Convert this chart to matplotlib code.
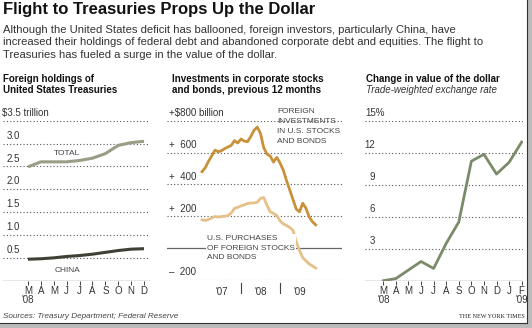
import matplotlib.pyplot as plt
from matplotlib.patches import Rectangle

plt.rcParams['font.family'] = ['Liberation Sans', 'DejaVu Sans']

# ---- data ----
months_08 = ['M', 'A', 'M', 'J', 'J', 'A', 'S', 'O', 'N', 'D']
total_hold = [2.49, 2.60, 2.60, 2.60, 2.63, 2.68, 2.78, 2.96, 3.02, 3.05]
china_hold = [0.47, 0.48, 0.50, 0.53, 0.55, 0.58, 0.62, 0.66, 0.69, 0.70]

# monthly, Jan 2007 onward ($ billion)
foreign_inv = [480, 505, 545, 580, 615, 605, 612, 625, 635, 645, 675, 660,
               685, 672, 668, 700, 740, 760, 720, 630, 590, 578, 540, 570,
               535, 490, 425, 365, 305, 245, 228, 282, 250, 195, 165, 146]
us_purch = [178, 174, 180, 190, 199, 195, 198, 200, 205, 220, 250, 256,
            265, 272, 280, 283, 284, 288, 312, 318, 268, 228, 218, 205,
            172, 152, 142, 130, 112, 40, -15, -60, -80, -100, -112, -125]
years = ["'07", "'08", "'09"]

months_dollar = ['M', 'A', 'M', 'J', 'J', 'A', 'S', 'O', 'N', 'D', 'J', 'F']
dollar_chg = [0.0, 0.2, 1.0, 1.8, 1.15, 3.5, 5.5, 11.2, 11.85, 10.0, 11.1, 13.0]

W, H = 532, 328
fig = plt.figure(figsize=(W / 100, H / 100), dpi=100)


def px_axes(x0, x1, ytop, ybot):
    return fig.add_axes([x0 / W, 1 - ybot / H, (x1 - x0) / W, (ybot - ytop) / H])


def clean(ax):
    for s in ax.spines.values():
        s.set_visible(False)
    ax.set_xticks([])
    ax.set_yticks([])
    ax.patch.set_alpha(0)


def month_axis(ax, labels, yr_labels):
    # small ticks below baseline, month letters, then year marks
    xs = list(range(len(labels)))
    ax.vlines(xs, -0.028, 0, transform=ax.get_xaxis_transform(), color='#444444',
              lw=0.7, clip_on=False)
    for i, m in enumerate(labels):
        ax.annotate(m, (i, 0), xycoords=('data', 'axes fraction'), xytext=(0, -7.3),
                    textcoords='offset points', ha='center', va='center', fontsize=7,
                    color='#333333')
    for i, y in yr_labels:
        ax.annotate(y, (i, 0), xycoords=('data', 'axes fraction'), xytext=(0, -14),
                    textcoords='offset points', ha='center', va='center', fontsize=7,
                    color='#333333')


grid_kw = dict(color='#555555', lw=0.8, ls=(0, (1, 2)), zorder=1)
lab_kw = dict(fontsize=7, color='#333333', va='bottom')

# ---- header ----
fig.text(3 / W, 1 - 2 / H, 'Flight to Treasuries Props Up the Dollar', fontsize=12,
         fontweight='bold', va='top', ha='left', color='#111111')
body = ('Although the United States deficit has ballooned, foreign investors, particularly China, have\n'
        'increased their holdings of federal debt and abandoned corporate debt and equities. The flight to\n'
        'Treasuries has fueled a surge in the value of the dollar.')
fig.text(3 / W, 1 - 25 / H, body, fontsize=8.1, va='top', ha='left', color='#333333',
         linespacing=1.3)

# ---- panel 1 ----
ax1 = px_axes(3, 150, 120.7, 280.7)
clean(ax1)
x1 = list(range(len(months_08)))
ax1.set_xlim((3 - 28) / 12.89, (150 - 28) / 12.89)
ax1.set_ylim(0, 3.5)
for v in [0.5, 1.0, 1.5, 2.0, 2.5, 3.0, 3.5]:
    ax1.axhline(v, **grid_kw)
ax1.axhline(0, color='#444444', lw=0.9, zorder=2)
ax1.plot(x1, total_hold, color='#9a9c86', lw=2.2, zorder=3, solid_capstyle='butt')
ax1.plot(x1, china_hold, color='#3e4236', lw=2.2, zorder=3, solid_capstyle='butt')
ax1.annotate('$3.5 trillion', (0, 3.5), xycoords=('axes fraction', 'data'),
             xytext=(-1, 2), textcoords='offset points', **lab_kw)
for v, s in zip([3.0, 2.5, 2.0, 1.5, 1.0, 0.5], ['3.0', '2.5', '2.0', '1.5', '1.0', '0.5']):
    ax1.annotate(s, (0, v), xycoords=('axes fraction', 'data'),
                 xytext=(2.5, 2), textcoords='offset points', **lab_kw)
ax1.text(3.0, 2.79, 'TOTAL', fontsize=6, color='#444444', ha='center', va='center')
ax1.text(3.1, 0.23, 'CHINA', fontsize=6, color='#444444', ha='center', va='center')
month_axis(ax1, months_08, [(0, "'08")])
fig.text(3 / W, 1 - 74 / H, 'Foreign holdings of\nUnited States Treasuries', fontsize=7,
         fontweight='bold', va='top', ha='left', color='#111111', linespacing=1.1)

# ---- panel 2 ----
ax2 = px_axes(167, 342, 120.7, 280)
clean(ax2)
x2 = list(range(len(foreign_inv)))
ax2.set_xlim((167 - 202) / 3.25, (342 - 202) / 3.25)
ax2.set_ylim(-200, 800)
for v in [-200, 200, 400, 600, 800]:
    ax2.axhline(v, **grid_kw)
ax2.axhline(0, color='#666666', lw=0.9, zorder=2)
ax2.plot(x2, foreign_inv, color='#c9913a', lw=2.0, zorder=3)
ax2.plot(x2, us_purch, color='#e6c08a', lw=2.0, zorder=3)
ax2.annotate('+$800 billion', (0, 800), xycoords=('axes fraction', 'data'),
             xytext=(1.5, 2), textcoords='offset points', **lab_kw)
for v, s in zip([600, 400, 200, -200], ['+  600', '+  400', '+  200', '\u2013  200']):
    ax2.annotate(s, (0, v), xycoords=('axes fraction', 'data'),
                 xytext=(1.5, 2), textcoords='offset points', **lab_kw)
ax2.text((277 - 202) / 3.25, 878, 'FOREIGN\nINVESTMENTS\nIN U.S. STOCKS\nAND BONDS',
         fontsize=6, color='#444444', ha='left', va='top', linespacing=1.55)
ax2.text((207 - 202) / 3.25, 0, 'U.S. PURCHASES\nOF FOREIGN STOCKS\nAND BONDS',
         fontsize=6, color='#444444', ha='left', va='center', linespacing=1.55, zorder=4,
         bbox=dict(facecolor='white', edgecolor='none', pad=0.6))
for i, y in enumerate(years):
    ax2.annotate(y, (6 + 12 * i, -200), xycoords='data', xytext=(0, -8.5),
                 textcoords='offset points', ha='center', va='center', fontsize=7,
                 color='#333333')
for t in [12, 24]:
    ax2.plot([t, t], [-218, -280], color='#444444', lw=0.8, clip_on=False)
fig.text(172 / W, 1 - 74 / H, 'Investments in corporate stocks\nand bonds, previous 12 months',
         fontsize=7.1, fontweight='bold', va='top', ha='left', color='#111111', linespacing=1.1)

# ---- panel 3 ----
ax3 = px_axes(365, 523, 120.7, 280.7)
clean(ax3)
x3 = list(range(len(months_dollar)))
ax3.set_xlim((365 - 383.3) / 12.58, (523 - 383.3) / 12.58)
ax3.set_ylim(0, 15)
for v in [3, 6, 9, 12, 15]:
    ax3.axhline(v, **grid_kw)
ax3.axhline(0, color='#444444', lw=0.9, zorder=2)
ax3.plot(x3, dollar_chg, color='#7b8b6a', lw=2.0, zorder=3)
ax3.annotate('15%', (0, 15), xycoords=('axes fraction', 'data'),
             xytext=(0, 2), textcoords='offset points', **lab_kw)
for v in [12, 9, 6, 3]:
    ax3.annotate(str(v), (0, v), xycoords=('axes fraction', 'data'), ha='right',
                 xytext=(7.5, 2), textcoords='offset points', **lab_kw)
month_axis(ax3, months_dollar, [(0, "'08"), (11, "'09")])
fig.text(366 / W, 1 - 74 / H, 'Change in value of the dollar', fontsize=7,
         fontweight='bold', va='top', ha='left', color='#111111')
fig.text(366 / W, 1 - 85 / H, 'Trade-weighted exchange rate', fontsize=7,
         style='italic', va='top', ha='left', color='#333333')

# ---- footer and frame ----
fig.text(3 / W, 1 - 317 / H, 'Sources: Treasury Department; Federal Reserve', fontsize=5.9,
         style='italic', va='center', ha='left', color='#444444')
fig.text(525 / W, 1 - 317 / H, 'THE NEW YORK TIMES', fontsize=4.4, family='Liberation Serif',
         va='center', ha='right', color='#222222')
fig.add_artist(Rectangle((527 / W, 0), 5 / W, 1, transform=fig.transFigure,
                         facecolor='#bbbbbb', edgecolor='none'))
fig.add_artist(Rectangle((0, 0), 1, 5 / H, transform=fig.transFigure,
                         facecolor='#bbbbbb', edgecolor='none'))
fig.add_artist(plt.Line2D([527 / W, 527 / W], [5 / H, 1], transform=fig.transFigure,
                          color='#333333', lw=0.8))
fig.add_artist(plt.Line2D([0, 527 / W], [5 / H, 5 / H], transform=fig.transFigure,
                          color='#333333', lw=0.8))

fig.savefig('out.png', dpi=100)
